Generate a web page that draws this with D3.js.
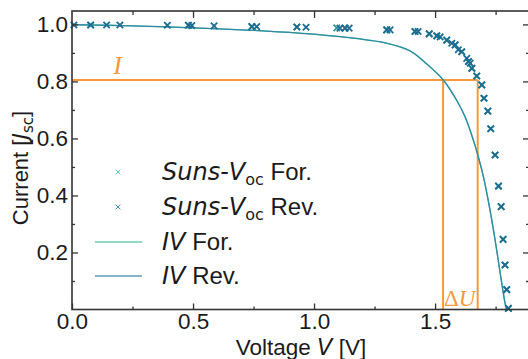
<!DOCTYPE html>
<html>
<head>
<meta charset="utf-8">
<script src="https://cdn.jsdelivr.net/npm/d3@7"></script>
<style>
  body { margin: 0; background: #fff; }
  text { font-family: "Liberation Sans", Arial, sans-serif; fill: #1a1a1a; }
  .math { font-family: "DejaVu Sans", sans-serif; font-style: oblique; }
</style>
</head>
<body>
<div id="chart"></div>
<script>
////////////////////////////////////////////////////////////////////////////////
//////////////////////////////////////////////////////////////////////// Data
////////////////////////////////////////////////////////////////////////////////

// Suns-Voc forward sweep (voltage, current)
const sunsForV = [0.077, 0.481, 0.743, 0.929, 1.094, 1.128, 1.300, 1.417, 1.476, 1.507, 1.548, 1.583, 1.610, 1.638, 1.652, 1.672, 1.693, 1.702, 1.718, 1.730, 1.748, 1.762, 1.773, 1.781, 1.789, 1.796, 1.803];
const sunsForJ = [0.998, 0.997, 0.992, 0.991, 0.988, 0.987, 0.981, 0.975, 0.967, 0.960, 0.945, 0.928, 0.904, 0.870, 0.846, 0.819, 0.788, 0.741, 0.696, 0.634, 0.542, 0.433, 0.361, 0.246, 0.156, 0.070, 0.004];

// Suns-Voc reverse sweep
const sunsRevV = [0.008, 0.077, 0.143, 0.198, 0.394, 0.481, 0.495, 0.587, 0.743, 0.763, 0.929, 0.967, 1.107, 1.128, 1.145, 1.300, 1.314, 1.417, 1.430, 1.476, 1.507, 1.521, 1.548, 1.569, 1.583, 1.596, 1.610, 1.631, 1.638, 1.645, 1.652, 1.672, 1.693, 1.702, 1.718, 1.730, 1.748, 1.762, 1.773, 1.781, 1.789, 1.796, 1.803];
const sunsRevJ = [0.998, 0.998, 0.998, 0.998, 0.997, 0.997, 0.996, 0.995, 0.992, 0.992, 0.991, 0.990, 0.987, 0.987, 0.987, 0.981, 0.981, 0.975, 0.975, 0.967, 0.960, 0.956, 0.945, 0.934, 0.928, 0.911, 0.904, 0.881, 0.870, 0.864, 0.846, 0.819, 0.788, 0.741, 0.696, 0.634, 0.542, 0.433, 0.361, 0.246, 0.156, 0.070, 0.004];

// IV curves
const ivForV = [0.0, 0.25, 0.529, 0.75, 0.942, 1.107, 1.300, 1.397, 1.466, 1.533, 1.590, 1.624, 1.658, 1.679, 1.700, 1.727, 1.748, 1.769, 1.789, 1.795];
const ivForJ = [0.999, 0.995, 0.987, 0.979, 0.969, 0.957, 0.934, 0.907, 0.861, 0.806, 0.733, 0.676, 0.595, 0.535, 0.465, 0.349, 0.244, 0.128, 0.023, 0.0];
const ivRevV = [0.0, 0.25, 0.529, 0.75, 0.942, 1.107, 1.300, 1.397, 1.466, 1.533, 1.590, 1.624, 1.658, 1.679, 1.700, 1.727, 1.748, 1.769, 1.789, 1.796];
const ivRevJ = [0.999, 0.995, 0.987, 0.979, 0.969, 0.957, 0.934, 0.907, 0.861, 0.806, 0.732, 0.675, 0.594, 0.534, 0.464, 0.348, 0.243, 0.127, 0.022, 0.0];

// Orange guide lines: current level and voltage window
const guideI = 0.805;
const guideU = [1.533, 1.676];

// Tick labels
const xTicks = [0.0, 0.5, 1.0, 1.5];
const xMinorTicks = [0.25, 0.75, 1.25, 1.75];
const yTicks = [0.2, 0.4, 0.6, 0.8, 1.0];
const yMinorTicks = [0.1, 0.3, 0.5, 0.7, 0.9];

// Legend entries
const legendLabels = ["For.", "Rev.", "For.", "Rev."];

////////////////////////////////////////////////////////////////////////////////
////////////////////////////////////////////////////////////////////// Chart
////////////////////////////////////////////////////////////////////////////////

const W = 528, H = 359;
const plotLeft = 72, plotRight = 529, plotTop = 11, plotBottom = 309.5;

const colorFor = "#2c9c96";
const colorRev = "#1d6c90";
const lineFor = "#40b4a4";
const lineRev = "#2f7fa2";
const orange = "#f59a3c";
const axisColor = "#333";

const svg = d3.select("#chart")
              .append("svg")
              .attr("width", W)
              .attr("height", H);

const xScale = d3.scaleLinear().domain([0, 1.888]).range([plotLeft, plotRight]);
const yScale = d3.scaleLinear().domain([0, 1.047]).range([plotBottom, plotTop]);

// Orange guides
svg.append("path")
   .attr("d", `M${xScale(0)},${yScale(guideI)}H${xScale(guideU[1])}`)
   .attr("stroke", orange).attr("stroke-width", 2).attr("fill", "none");
guideU.forEach(u => {
  svg.append("path")
     .attr("d", `M${xScale(u)},${yScale(guideI)}V${yScale(0)}`)
     .attr("stroke", orange).attr("stroke-width", 2).attr("fill", "none");
});

// IV lines
const line = d3.line()
               .x(d => xScale(d[0]))
               .y(d => yScale(d[1]))
               .curve(d3.curveCatmullRom.alpha(0.5));

svg.append("path")
   .datum(d3.zip(ivForV, ivForJ))
   .attr("d", line)
   .attr("stroke", lineFor).attr("stroke-width", 1.4).attr("fill", "none");
svg.append("path")
   .datum(d3.zip(ivRevV, ivRevJ))
   .attr("d", line)
   .attr("stroke", lineRev).attr("stroke-width", 1.2).attr("fill", "none")
   .attr("opacity", 0.85);

// Cross markers
function cross(s) {
  return `M${-s},${-s}L${s},${s}M${-s},${s}L${s},${-s}`;
}

function drawCrosses(vs, js, color) {
  svg.append("g")
     .selectAll("path")
     .data(d3.zip(vs, js))
     .join("path")
       .attr("transform", d => `translate(${xScale(d[0])},${yScale(d[1])})`)
       .attr("d", cross(3.2))
       .attr("stroke", color)
       .attr("stroke-width", 1.8)
       .attr("fill", "none");
}
drawCrosses(sunsForV, sunsForJ, colorFor);
drawCrosses(sunsRevV, sunsRevJ, colorRev);

// Orange annotations
svg.append("text")
   .attr("x", xScale(0.17)).attr("y", 74)
   .style("font-family", "'Liberation Serif', 'DejaVu Serif', serif")
   .style("font-style", "italic")
   .style("font-size", "26px")
   .style("fill", orange)
   .text("I");

const du = svg.append("text")
   .attr("x", xScale(guideU[0]) + 1).attr("y", 306)
   .style("font-family", "'Liberation Serif', 'DejaVu Serif', serif")
   .style("font-size", "23px")
   .style("fill", orange);
du.append("tspan").text("\u0394");
du.append("tspan").style("font-style", "italic").text("U");

// Axes with inward ticks
function inward(axis, len) {
  return axis.tickSizeInner(-len).tickSizeOuter(0);
}

svg.append("g")
   .attr("transform", `translate(0,${plotBottom})`)
   .call(inward(d3.axisBottom(xScale).tickValues(xMinorTicks).tickFormat(""), 3));
svg.append("g")
   .attr("transform", `translate(0,${plotBottom})`)
   .call(inward(d3.axisBottom(xScale).tickValues(xTicks).tickFormat(d3.format(".1f")), 6).tickPadding(4));

svg.append("g")
   .attr("transform", `translate(0,${plotTop})`)
   .call(inward(d3.axisTop(xScale).tickValues(xMinorTicks).tickFormat(""), 4));
svg.append("g")
   .attr("transform", `translate(0,${plotTop})`)
   .call(inward(d3.axisTop(xScale).tickValues(xTicks.slice(1)).tickFormat(""), 7));

svg.append("g")
   .attr("transform", `translate(${plotLeft},0)`)
   .call(inward(d3.axisLeft(yScale).tickValues(yMinorTicks).tickFormat(""), 3));
svg.append("g")
   .attr("transform", `translate(${plotLeft},0)`)
   .call(inward(d3.axisLeft(yScale).tickValues(yTicks).tickFormat(d3.format(".1f")), 6).tickPadding(4));

svg.append("g")
   .attr("transform", `translate(${plotRight},0)`)
   .call(inward(d3.axisRight(yScale).tickValues(yMinorTicks).tickFormat(""), 3));
svg.append("g")
   .attr("transform", `translate(${plotRight},0)`)
   .call(inward(d3.axisRight(yScale).tickValues(yTicks).tickFormat(""), 6));

svg.selectAll(".domain").remove();
svg.selectAll(".tick line").attr("stroke", axisColor).attr("stroke-width", 1.3);
svg.selectAll(".tick text")
   .style("font-family", "'Liberation Sans', Arial, sans-serif")
   .style("font-size", "22.5px")
   .attr("fill", "#1a1a1a");

// Frame
svg.append("rect")
   .attr("x", plotLeft).attr("y", plotTop)
   .attr("width", plotRight - plotLeft).attr("height", plotBottom - plotTop)
   .attr("fill", "none")
   .attr("stroke", axisColor)
   .attr("stroke-width", 1.6);

// Axis labels
const xLabel = svg.append("text")
   .attr("x", 301).attr("y", 354.5)
   .attr("text-anchor", "middle")
   .style("font-size", "22.5px");
xLabel.append("tspan").text("Voltage ");
xLabel.append("tspan").attr("class", "math").text("V");
xLabel.append("tspan").text(" [V]");

const yLabel = svg.append("text")
   .attr("transform", "translate(28,168) rotate(-90)")
   .attr("text-anchor", "middle")
   .style("font-size", "22px");
yLabel.append("tspan").text("Current [");
yLabel.append("tspan").attr("class", "math").text("J");
yLabel.append("tspan").attr("dy", 5).style("font-family", "'DejaVu Sans', sans-serif").style("font-size", "15px").text("sc");
yLabel.append("tspan").attr("dy", -5).text("]");

// Legend
const legendY = [172, 207, 242, 276];
const legend = svg.append("g");

legendLabels.forEach((lab, i) => {
  const y = legendY[i];
  if (i < 2) {
    legend.append("path")
          .attr("transform", `translate(118,${y})`)
          .attr("d", cross(2.4))
          .attr("stroke", i === 0 ? "#5cc7a8" : "#3d8fc0")
          .attr("stroke-width", 1)
          .attr("fill", "none");
    const t = legend.append("text")
                    .attr("x", 162).attr("y", y + 8)
                    .style("font-size", "24px");
    t.append("tspan").attr("class", "math").text("Suns");
    t.append("tspan").style("font-family", "'DejaVu Sans', sans-serif").text("-");
    t.append("tspan").attr("class", "math").text("V");
    t.append("tspan").attr("dy", 5).style("font-family", "'DejaVu Sans', sans-serif").style("font-size", "16px").text("oc");
    t.append("tspan").attr("dy", -5).text(" " + lab);
  } else {
    legend.append("path")
          .attr("d", `M95,${y}H142`)
          .attr("stroke", i === 2 ? "#6ccfb3" : "#5f98b8")
          .attr("stroke-width", 1.3);
    const t = legend.append("text")
                    .attr("x", 162).attr("y", y + 8)
                    .style("font-size", "24px");
    t.append("tspan").attr("class", "math").text("IV");
    t.append("tspan").text(" " + lab);
  }
});
</script>
</body>
</html>
